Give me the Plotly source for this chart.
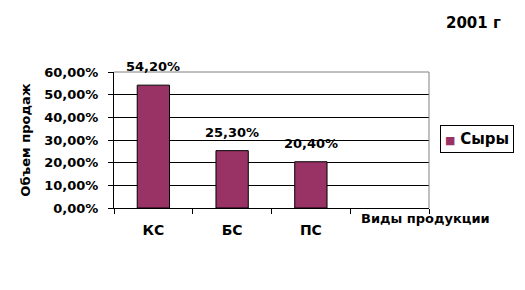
import plotly.graph_objects as go

categories = ["КС", "БС", "ПС", " "]
values = [0.542, 0.253, 0.204, None]
series_name = "Сыры"
title_text = "2001 г"
y_title = "Объем продаж"
x_title = "Виды продукции"
y_ticks = [0, 0.1, 0.2, 0.3, 0.4, 0.5, 0.6]

FONT = "DejaVu Sans"
BAR_COLOR = "#993366"

fig = go.Figure()
fig.add_trace(go.Bar(
    x=categories, y=values, name=series_name,
    marker=dict(color=BAR_COLOR, line=dict(color="black", width=1)),
    showlegend=False,
))

for c, v in zip(categories, values):
    if v is None:
        continue
    fig.add_annotation(x=c, y=v, text=f"{v*100:.2f}%".replace(".", ","),
                       showarrow=False, yanchor="bottom", yshift=9,
                       font=dict(family=FONT, size=13, color="black", weight="bold"))

fig.add_annotation(xref="paper", yref="paper", x=1.235, y=1.36, text=f"<b>{title_text}</b>",
                   showarrow=False, xanchor="right", yanchor="middle",
                   font=dict(family=FONT, size=15, color="black"))
fig.add_annotation(xref="paper", yref="paper", x=1.2, y=-0.08, text=f"<b>{x_title}</b>",
                   showarrow=False, xanchor="right", yanchor="middle",
                   font=dict(family=FONT, size=13, color="black"))

# legend box (compact, like the original)
fig.add_annotation(xref="paper", yref="paper", x=1.035, y=0.507,
                   text=f"<span style='color:{BAR_COLOR};font-size:11px'>■</span> <b>{series_name}</b>",
                   showarrow=False, xanchor="left", yanchor="middle",
                   bordercolor="black", borderwidth=1, borderpad=4, bgcolor="white",
                   font=dict(family=FONT, size=15, color="black"))

# gray border top/right
fig.add_shape(type="line", xref="paper", yref="paper", x0=0, x1=1, y0=1, y1=1,
              line=dict(color="#808080", width=1), layer="above")
fig.add_shape(type="line", xref="paper", yref="paper", x0=1, x1=1, y0=0, y1=1,
              line=dict(color="#808080", width=1), layer="above")

fig.update_layout(
    width=525, height=290,
    margin=dict(l=114, r=96, t=72, b=82, autoexpand=False),
    paper_bgcolor="white", plot_bgcolor="white",
    separators=", ",
    bargap=0.59,
    showlegend=False,
    font=dict(family=FONT, size=12, color="black"),
)
fig.update_xaxes(
    type="category", categoryorder="array", categoryarray=categories,
    range=[-0.5, 3.5],
    showline=True, linecolor="black", linewidth=1,
    ticks="outside", tickson="boundaries", ticklen=5, tickcolor="black",
    tickfont=dict(family=FONT, size=14, color="black", weight="bold"),
    ticklabelstandoff=9,
    showgrid=False,
)
fig.update_yaxes(
    range=[0, 0.6], tickvals=y_ticks, tickformat=".2%",
    showline=True, linecolor="black", linewidth=1,
    ticks="outside", ticklen=5, tickcolor="black",
    ticklabelstandoff=7,
    showgrid=True, gridcolor="black", gridwidth=1,
    zeroline=False,
    tickfont=dict(family=FONT, size=13, color="black", weight="bold"),
    title=dict(text=y_title, font=dict(family=FONT, size=13, color="black", weight="bold"), standoff=10),
)

fig.write_html("out.html")
